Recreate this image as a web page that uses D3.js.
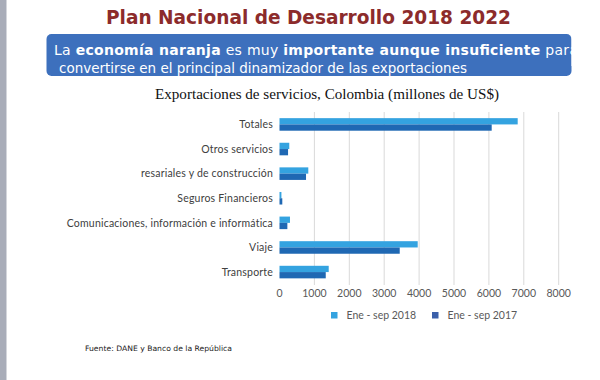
<!DOCTYPE html>
<html>
<head>
<meta charset="utf-8">
<script src="https://cdn.jsdelivr.net/npm/d3@7"></script>
<style>
  html, body { margin: 0; padding: 0; background: #fff; }
  svg { display: block; }
</style>
</head>
<body>
<div id="chart"></div>
<script>
var categories = ['Totales', 'Otros servicios', 'resariales y de construcción', 'Seguros Financieros',
    'Comunicaciones, información e informática', 'Viaje', 'Transporte'];
var seriesNames = ['Ene - sep 2018', 'Ene - sep 2017'];
var values2018 = [6825, 280, 825, 55, 300, 3960, 1410];
var values2017 = [6080, 245, 760, 80, 225, 3445, 1325];
var tickValues = [0, 1000, 2000, 3000, 4000, 5000, 6000, 7000, 8000];

var w = 600, h = 380;
var colors = ['#34a3e0', '#1f68b3'];
var legendColors = ['#34a3e0', '#3b60aa'];

var svg = d3.select('#chart').append('svg').attr('width', w).attr('height', h);

// left grey strip
svg.append('rect').attr('x', 0).attr('y', 0).attr('width', 6.5).attr('height', h).attr('fill', '#a9adb9');

// headline
svg.append('text').attr('x', 106).attr('y', 24)
    .attr('textLength', 405).attr('lengthAdjust', 'spacingAndGlyphs')
    .attr('font-family', 'DejaVu Sans').attr('font-weight', 'bold').attr('font-size', 20)
    .attr('fill', '#8c2b2b').text('Plan Nacional de Desarrollo 2018 2022');

// blue box
svg.append('rect').attr('x', 46.5).attr('y', 34).attr('width', 525).attr('height', 42).attr('rx', 5)
    .attr('fill', '#3d70bd');
var line1 = [['La ', false], ['economía naranja', true], [' es muy ', false],
    ['importante aunque insuficiente', true], [' para', false]];
var t1 = svg.append('text').attr('x', 54).attr('y', 55)
    .attr('textLength', 524).attr('lengthAdjust', 'spacing')
    .attr('font-family', 'DejaVu Sans').attr('font-size', 14).attr('fill', '#fff')
    .attr('xml:space', 'preserve').style('white-space', 'pre');
line1.forEach(function (p) {
    t1.append('tspan').attr('font-weight', p[1] ? 'bold' : 'normal').text(p[0]);
});
svg.append('text').attr('x', 59).attr('y', 72.5)
    .attr('textLength', 408).attr('lengthAdjust', 'spacingAndGlyphs')
    .attr('font-family', 'DejaVu Sans').attr('font-size', 14).attr('fill', '#fff')
    .text('convertirse en el principal dinamizador de las exportaciones');
// cover overflow of first line past the box
svg.append('rect').attr('x', 571.5).attr('y', 36).attr('width', 30).attr('height', 30).attr('fill', '#fff');

// chart title
svg.append('text').attr('x', 155).attr('y', 98.5)
    .attr('textLength', 344).attr('lengthAdjust', 'spacingAndGlyphs')
    .attr('font-family', 'Liberation Serif').attr('font-size', 15).attr('fill', '#111')
    .text('Exportaciones de servicios, Colombia (millones de US$)');

var x = d3.scaleLinear().domain([0, 8000]).range([279.5, 558.7]);
var y = d3.scaleBand().domain(categories).range([112, 284.5]).paddingInner(0.49).paddingOuter(0.25);
var sub = d3.scaleBand().domain(seriesNames).range([0, y.bandwidth()]);

// gridlines
svg.append('g').selectAll('line').data(tickValues.slice(1)).enter().append('line')
    .attr('x1', function (d) { return x(d); }).attr('x2', function (d) { return x(d); })
    .attr('y1', 112).attr('y2', 285)
    .attr('stroke', '#d9d9d9').attr('stroke-width', 1);

// tick labels
svg.append('g').selectAll('text').data(tickValues).enter().append('text')
    .attr('x', function (d) { return x(d); }).attr('y', 297)
    .attr('text-anchor', 'middle')
    .attr('font-family', 'Lato').attr('font-size', 10.5).attr('fill', '#595959')
    .text(function (d) { return d; });

// category labels
svg.append('g').selectAll('text').data(categories).enter().append('text')
    .attr('x', 273).attr('y', function (d) { return y(d) + y.bandwidth() / 2; })
    .attr('dy', '0.35em').attr('text-anchor', 'end')
    .attr('font-family', 'Lato').attr('font-size', 10.5).attr('fill', '#404040')
    .style('letter-spacing', '0.2px')
    .text(function (d) { return d; });

// bars
var rows = categories.map(function (c, i) {
    return [{cat: c, s: seriesNames[0], v: values2018[i], k: 0},
            {cat: c, s: seriesNames[1], v: values2017[i], k: 1}];
});
svg.append('g').selectAll('g').data(rows).enter().append('g')
    .selectAll('rect').data(function (d) { return d; }).enter().append('rect')
    .attr('x', x(0))
    .attr('y', function (d) { return y(d.cat) + sub(d.s); })
    .attr('width', function (d) { return x(d.v) - x(0); })
    .attr('height', sub.bandwidth())
    .attr('fill', function (d) { return colors[d.k]; });

// legend
var legendX = [331, 432];
seriesNames.forEach(function (s, i) {
    svg.append('rect').attr('x', legendX[i]).attr('y', 312).attr('width', 6.5).attr('height', 6.5)
        .attr('fill', legendColors[i]);
    svg.append('text').attr('x', legendX[i] + 15.5).attr('y', 315.5).attr('dy', '0.35em')
        .attr('font-family', 'Lato').attr('font-size', 10.5).attr('fill', '#595959')
        .text(s);
});

// source
svg.append('text').attr('x', 85).attr('y', 350.5)
    .attr('textLength', 147).attr('lengthAdjust', 'spacingAndGlyphs')
    .attr('font-family', 'DejaVu Sans').attr('font-size', 7.5).attr('fill', '#222')
    .text('Fuente: DANE y Banco de la República');
</script>
</body>
</html>
